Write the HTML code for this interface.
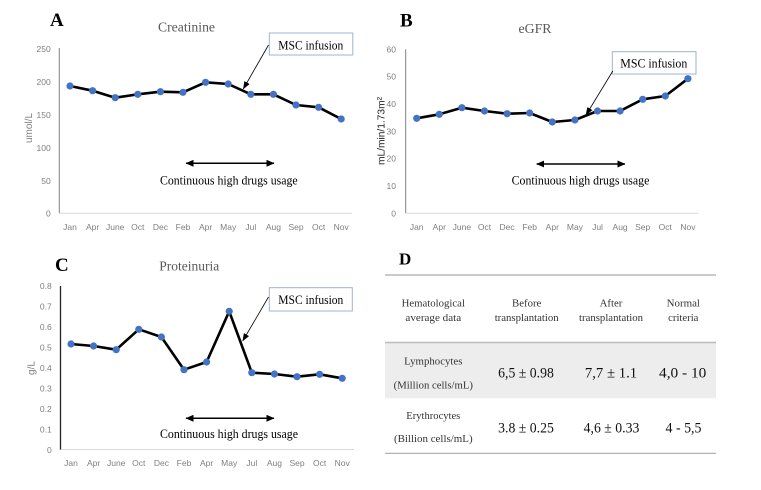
<!DOCTYPE html>
<html><head><meta charset="utf-8"><style>
html,body{margin:0;padding:0;background:#fff;}
svg{display:block;}
.tk{font-family:"Liberation Sans",sans-serif;font-size:8.5px;fill:#7f7f7f;}
.ser{font-family:"Liberation Serif",serif;}
</style></head><body>
<svg width="761" height="490" viewBox="0 0 761 490" xmlns="http://www.w3.org/2000/svg">
<defs>
<marker id="ah" markerWidth="8" markerHeight="6" refX="7.5" refY="3" orient="auto" markerUnits="userSpaceOnUse"><path d="M0,0 L8,3 L0,6 Z" fill="#000"/></marker>
<marker id="dh" markerWidth="8" markerHeight="7" refX="7.5" refY="3.5" orient="auto-start-reverse" markerUnits="userSpaceOnUse"><path d="M0,0 L8,3.5 L0,7 Z" fill="#000"/></marker>
</defs>

<!-- ===== A ===== -->
<text x="50" y="26" class="ser" font-size="19" font-weight="bold">A</text>
<text x="186.5" y="31.5" class="ser" font-size="14" fill="#595959" text-anchor="middle" textLength="57" lengthAdjust="spacingAndGlyphs">Creatinine</text>
<g class="tk" text-anchor="end">
<text x="50.7" y="52">250</text><text x="50.7" y="85">200</text><text x="50.7" y="118">150</text>
<text x="50.7" y="151">100</text><text x="50.7" y="184">50</text><text x="50.7" y="216.5">0</text>
</g>
<text transform="translate(32,128) rotate(-90)" font-family="Liberation Sans,sans-serif" font-size="10" fill="#7f7f7f" text-anchor="middle">umol/L</text>
<line x1="59.3" y1="48" x2="59.3" y2="213.3" stroke="#808080" stroke-width="1"/>
<line x1="59.3" y1="213.3" x2="352" y2="213.3" stroke="#d9d9d9" stroke-width="1"/>
<g class="tk" text-anchor="middle">
<text x="70" y="230">Jan</text><text x="92.6" y="230">Apr</text><text x="115.2" y="230">June</text><text x="137.8" y="230">Oct</text><text x="160.4" y="230">Dec</text><text x="183" y="230">Feb</text><text x="205.6" y="230">Apr</text><text x="228.2" y="230">May</text><text x="250.8" y="230">Jul</text><text x="273.4" y="230">Aug</text><text x="296" y="230">Sep</text><text x="318.6" y="230">Oct</text><text x="341.2" y="230">Nov</text>
</g>
<polyline fill="none" stroke="#000" stroke-width="2.6" stroke-linejoin="round" points="70,86 92.6,90.7 115.2,97.7 137.8,94.3 160.4,91.7 183,92.3 205.6,82.3 228.2,84 250.8,94.3 273.4,94.3 296,105 318.6,107.3 341.2,119"/>
<g fill="#4472C4">
<circle cx="70" cy="86" r="3.6"/><circle cx="92.6" cy="90.7" r="3.6"/><circle cx="115.2" cy="97.7" r="3.6"/><circle cx="137.8" cy="94.3" r="3.6"/><circle cx="160.4" cy="91.7" r="3.6"/><circle cx="183" cy="92.3" r="3.6"/><circle cx="205.6" cy="82.3" r="3.6"/><circle cx="228.2" cy="84" r="3.6"/><circle cx="250.8" cy="94.3" r="3.6"/><circle cx="273.4" cy="94.3" r="3.6"/><circle cx="296" cy="105" r="3.6"/><circle cx="318.6" cy="107.3" r="3.6"/><circle cx="341.2" cy="119" r="3.6"/>
</g>
<rect x="269.3" y="33" width="83.5" height="22" fill="#fff" stroke="#9fb4cc" stroke-width="1"/>
<text x="310.8" y="49.3" class="ser" font-size="13" text-anchor="middle" textLength="65" lengthAdjust="spacingAndGlyphs">MSC infusion</text>
<line x1="268.5" y1="45" x2="243.3" y2="89" stroke="#000" stroke-width="0.8" marker-end="url(#ah)"/>
<line x1="186" y1="163.3" x2="274" y2="163.3" stroke="#000" stroke-width="1.5" marker-start="url(#dh)" marker-end="url(#dh)"/>
<text x="228.8" y="184.5" class="ser" font-size="13" text-anchor="middle" textLength="137.7" lengthAdjust="spacingAndGlyphs">Continuous high drugs usage</text>

<!-- ===== B ===== -->
<text x="400" y="26.5" class="ser" font-size="19" font-weight="bold">B</text>
<text x="535" y="33" class="ser" font-size="14" fill="#595959" text-anchor="middle" textLength="33" lengthAdjust="spacingAndGlyphs">eGFR</text>
<g class="tk" text-anchor="end">
<text x="396" y="52.3">60</text><text x="396" y="79.6">50</text><text x="396" y="107">40</text><text x="396" y="134.3">30</text><text x="396" y="161.6">20</text><text x="396" y="189">10</text><text x="396" y="216.3">0</text>
</g>
<text transform="translate(384.5,131) rotate(-90)" font-family="Liberation Sans,sans-serif" font-size="10" fill="#222" text-anchor="middle" textLength="68" lengthAdjust="spacingAndGlyphs">mL/min/1.73m²</text>
<line x1="405.7" y1="49.3" x2="405.7" y2="213.3" stroke="#808080" stroke-width="1"/>
<line x1="405.7" y1="213.3" x2="698.3" y2="213.3" stroke="#d9d9d9" stroke-width="1"/>
<g class="tk" text-anchor="middle">
<text x="416.7" y="230">Jan</text><text x="439.3" y="230">Apr</text><text x="461.9" y="230">June</text><text x="484.5" y="230">Oct</text><text x="507.1" y="230">Dec</text><text x="529.7" y="230">Feb</text><text x="552.3" y="230">Apr</text><text x="574.9" y="230">May</text><text x="597.5" y="230">Jul</text><text x="620.1" y="230">Aug</text><text x="642.7" y="230">Sep</text><text x="665.3" y="230">Oct</text><text x="687.9" y="230">Nov</text>
</g>
<polyline fill="none" stroke="#000" stroke-width="2.6" stroke-linejoin="round" points="416.7,118.3 439.3,114.3 461.9,107.7 484.5,111 507.1,113.7 529.7,113 552.3,122 574.9,120 597.5,111 620.1,111 642.7,99.3 665.3,96 687.9,78.7"/>
<g fill="#4472C4">
<circle cx="416.7" cy="118.3" r="3.6"/><circle cx="439.3" cy="114.3" r="3.6"/><circle cx="461.9" cy="107.7" r="3.6"/><circle cx="484.5" cy="111" r="3.6"/><circle cx="507.1" cy="113.7" r="3.6"/><circle cx="529.7" cy="113" r="3.6"/><circle cx="552.3" cy="122" r="3.6"/><circle cx="574.9" cy="120" r="3.6"/><circle cx="597.5" cy="111" r="3.6"/><circle cx="620.1" cy="111" r="3.6"/><circle cx="642.7" cy="99.3" r="3.6"/><circle cx="665.3" cy="96" r="3.6"/><circle cx="687.9" cy="78.7" r="3.6"/>
</g>
<rect x="612.3" y="51.7" width="83.7" height="22.3" fill="#fff" stroke="#9fb4cc" stroke-width="1"/>
<text x="653.8" y="67.3" class="ser" font-size="13" text-anchor="middle" textLength="67" lengthAdjust="spacingAndGlyphs">MSC infusion</text>
<line x1="612.8" y1="71" x2="586" y2="115" stroke="#000" stroke-width="0.8" marker-end="url(#ah)"/>
<line x1="536.7" y1="164" x2="625" y2="164" stroke="#000" stroke-width="1.5" marker-start="url(#dh)" marker-end="url(#dh)"/>
<text x="580.5" y="184.5" class="ser" font-size="13" text-anchor="middle" textLength="137.7" lengthAdjust="spacingAndGlyphs">Continuous high drugs usage</text>

<!-- ===== C ===== -->
<text x="55" y="271" class="ser" font-size="19" font-weight="bold">C</text>
<text x="189.3" y="270.5" class="ser" font-size="14" fill="#595959" text-anchor="middle" textLength="60" lengthAdjust="spacingAndGlyphs">Proteinuria</text>
<g class="tk" text-anchor="end">
<text x="51.7" y="289">0.8</text><text x="51.7" y="309.5">0.7</text><text x="51.7" y="330">0.6</text><text x="51.7" y="350.5">0.5</text><text x="51.7" y="371">0.4</text><text x="51.7" y="391.5">0.3</text><text x="51.7" y="412">0.2</text><text x="51.7" y="432.5">0.1</text><text x="51.7" y="453">0</text>
</g>
<text transform="translate(34.5,368) rotate(-90)" font-family="Liberation Sans,sans-serif" font-size="10" fill="#7f7f7f" text-anchor="middle">g/L</text>
<line x1="60.5" y1="286" x2="60.5" y2="450" stroke="#222" stroke-width="1.3"/>
<line x1="60.5" y1="449.5" x2="354" y2="449.5" stroke="#d9d9d9" stroke-width="1"/>
<g class="tk" text-anchor="middle">
<text x="71" y="466">Jan</text><text x="93.6" y="466">Apr</text><text x="116.2" y="466">June</text><text x="138.8" y="466">Oct</text><text x="161.4" y="466">Dec</text><text x="184" y="466">Feb</text><text x="206.6" y="466">Apr</text><text x="229.2" y="466">May</text><text x="251.8" y="466">Jul</text><text x="274.4" y="466">Aug</text><text x="297" y="466">Sep</text><text x="319.6" y="466">Oct</text><text x="342.2" y="466">Nov</text>
</g>
<polyline fill="none" stroke="#000" stroke-width="2.6" stroke-linejoin="round" points="71,344 93.6,346 116.2,349.7 138.8,329.3 161.4,337 184,369.7 206.6,362 229.2,311.3 251.8,372.7 274.4,374 297,376.7 319.6,374.3 342.2,378.3"/>
<g fill="#4472C4">
<circle cx="71" cy="344" r="3.6"/><circle cx="93.6" cy="346" r="3.6"/><circle cx="116.2" cy="349.7" r="3.6"/><circle cx="138.8" cy="329.3" r="3.6"/><circle cx="161.4" cy="337" r="3.6"/><circle cx="184" cy="369.7" r="3.6"/><circle cx="206.6" cy="362" r="3.6"/><circle cx="229.2" cy="311.3" r="3.6"/><circle cx="251.8" cy="372.7" r="3.6"/><circle cx="274.4" cy="374" r="3.6"/><circle cx="297" cy="376.7" r="3.6"/><circle cx="319.6" cy="374.3" r="3.6"/><circle cx="342.2" cy="378.3" r="3.6"/>
</g>
<rect x="269.3" y="287.7" width="83" height="23.3" fill="#fff" stroke="#9fb4cc" stroke-width="1"/>
<text x="310.8" y="304" class="ser" font-size="13" text-anchor="middle" textLength="65" lengthAdjust="spacingAndGlyphs">MSC infusion</text>
<line x1="268.5" y1="297" x2="242.7" y2="341" stroke="#000" stroke-width="0.8" marker-end="url(#ah)"/>
<line x1="186" y1="418.3" x2="274" y2="418.3" stroke="#000" stroke-width="1.5" marker-start="url(#dh)" marker-end="url(#dh)"/>
<text x="229" y="438" class="ser" font-size="13" text-anchor="middle" textLength="138" lengthAdjust="spacingAndGlyphs">Continuous high drugs usage</text>

<!-- ===== D ===== -->
<text x="399" y="264.5" class="ser" font-size="17" font-weight="bold">D</text>
<rect x="385" y="343" width="331" height="55.3" fill="#ededed"/>
<line x1="385" y1="275" x2="716" y2="275" stroke="#aaa" stroke-width="1.2"/>
<line x1="385" y1="342.5" x2="716" y2="342.5" stroke="#bbb" stroke-width="1.6"/>
<line x1="385" y1="453.3" x2="716" y2="453.3" stroke="#aaa" stroke-width="1.2"/>
<g class="ser" font-size="11" fill="#333" text-anchor="middle">
<text x="433.3" y="306.5" textLength="63.3" lengthAdjust="spacingAndGlyphs">Hematological</text>
<text x="433.3" y="321" textLength="55.7" lengthAdjust="spacingAndGlyphs">average data</text>
<text x="526.7" y="306.5" textLength="29.3" lengthAdjust="spacingAndGlyphs">Before</text>
<text x="526.7" y="321" textLength="64" lengthAdjust="spacingAndGlyphs">transplantation</text>
<text x="611" y="306.5" textLength="22.7" lengthAdjust="spacingAndGlyphs">After</text>
<text x="611" y="321" textLength="64" lengthAdjust="spacingAndGlyphs">transplantation</text>
<text x="683.3" y="306.5" textLength="33.3" lengthAdjust="spacingAndGlyphs">Normal</text>
<text x="683.3" y="321" textLength="30.3" lengthAdjust="spacingAndGlyphs">criteria</text>
<text x="433.3" y="364.5" textLength="58.3" lengthAdjust="spacingAndGlyphs">Lymphocytes</text>
<text x="433.3" y="388.5" textLength="79.3" lengthAdjust="spacingAndGlyphs">(Million cells/mL)</text>
<text x="433.3" y="419" textLength="54" lengthAdjust="spacingAndGlyphs">Erythrocytes</text>
<text x="433.3" y="442" textLength="78.7" lengthAdjust="spacingAndGlyphs">(Billion cells/mL)</text>
</g>
<g class="ser" font-size="14.5" fill="#111" text-anchor="middle">
<text x="526" y="377.5" textLength="55.7" lengthAdjust="spacingAndGlyphs">6,5 ± 0.98</text>
<text x="611" y="377.5" textLength="52.3" lengthAdjust="spacingAndGlyphs">7,7 ± 1.1</text>
<text x="682.7" y="377.5" textLength="47.3" lengthAdjust="spacingAndGlyphs">4,0 - 10</text>
<text x="526" y="432.5" textLength="55.7" lengthAdjust="spacingAndGlyphs">3.8 ± 0.25</text>
<text x="611.5" y="432.5" textLength="55.7" lengthAdjust="spacingAndGlyphs">4,6 ± 0.33</text>
<text x="683.5" y="432.5" textLength="36" lengthAdjust="spacingAndGlyphs">4 - 5,5</text>
</g>
</svg>
</body></html>
